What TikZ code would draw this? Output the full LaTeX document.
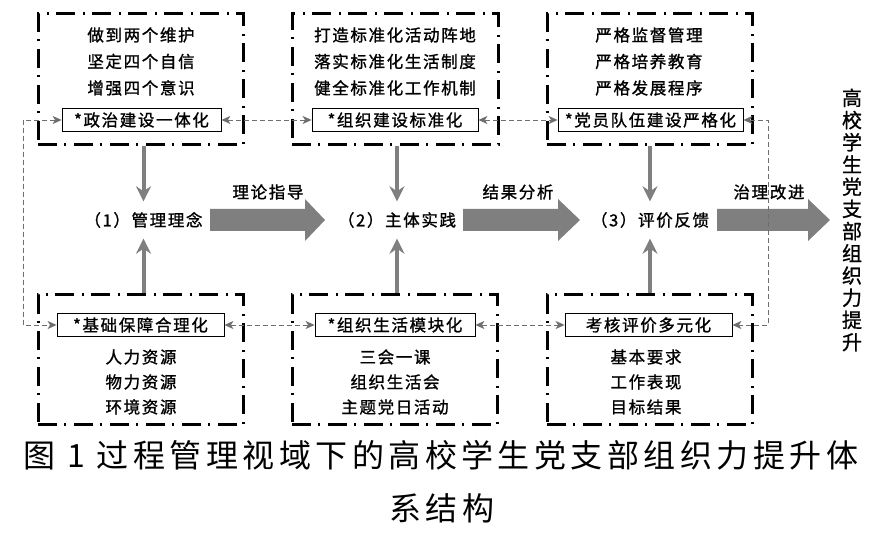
\documentclass[tikz,border=0pt]{standalone}
\usepackage{fontspec}
\setmainfont{Noto Sans CJK SC}
\newfontfamily\cjkls[LetterSpace=10,FakeBold=1.2]{Noto Sans CJK SC}
\newfontfamily\cjkcap[LetterSpace=14]{Noto Sans CJK SC}
\newfontfamily\cjkv[FakeBold=1]{Noto Sans CJK SC}
\usetikzlibrary{arrows.meta}
\definecolor{agray}{HTML}{7F7F7F}
\definecolor{dgray}{HTML}{6E6E6E}
\begin{document}
\begin{tikzpicture}[x=1pt,y=-1pt,
  outerbox/.style={draw=black, line width=3pt, dash pattern=on 19pt off 7pt on 2pt off 8pt, inner sep=0pt},
  lbl/.style={draw=black, line width=0.8pt, inner sep=0pt, minimum height=23pt, font={\cjkls\fontsize{16.5}{20}\selectfont}},
  txttop/.style={align=center, inner sep=0pt, font={\cjkls\fontsize{16.5}{26.5}\selectfont}},
  txtbot/.style={align=center, inner sep=0pt, font={\cjkls\fontsize{16.5}{25}\selectfont}},
  mid/.style={inner sep=0pt, minimum height=37pt, font={\cjkls\fontsize{16.5}{20}\selectfont}},
  arrlbl/.style={inner sep=0pt, font={\cjkls\fontsize{16.5}{20}\selectfont}},
  dconn/.style={draw=dgray, line width=0.9pt, dash pattern=on 5pt off 3pt,
     {Stealth[length=9pt,width=8pt,inset=2.5pt]}-{Stealth[length=9pt,width=8pt,inset=2.5pt]}},
  varr/.style={draw=agray, line width=4pt, -{Stealth[length=15pt,width=15pt,inset=5pt]}},
  bigarr/.style={fill=agray}
]
\useasboundingbox (0,0) rectangle (876,534);
\fill[white] (0,0) rectangle (876,534);

% outer dash-dot boxes
\node[outerbox, minimum width=205pt, minimum height=131pt] (b1) at (140.5,79.5) {};
\node[outerbox, minimum width=206pt, minimum height=131pt] (b2) at (395,79.5) {};
\node[outerbox, minimum width=205pt, minimum height=131pt] (b3) at (649.5,79.5) {};
\node[outerbox, minimum width=205pt, minimum height=130pt] (b4) at (140.5,360) {};
\node[outerbox, minimum width=205pt, minimum height=130pt] (b5) at (394.5,360) {};
\node[outerbox, minimum width=205pt, minimum height=130pt] (b6) at (649.5,360) {};

% texts in boxes
\node[txttop] (t1) at (141,61.5) {做到两个维护\\坚定四个自信\\增强四个意识};
\node[txttop] (t2) at (395,61.5) {打造标准化活动阵地\\落实标准化生活制度\\健全标准化工作机制};
\node[txttop] (t3) at (649,61.5) {严格监督管理\\严格培养教育\\严格发展程序};
\node[txtbot] (t4) at (141,382) {人力资源\\物力资源\\环境资源};
\node[txtbot] (t5) at (395,382) {三会一课\\组织生活会\\主题党日活动};
\node[txtbot] (t6) at (646,382) {基本要求\\工作表现\\目标结果};

% label boxes
\node[lbl, minimum width=159pt] (L1) at (141.5,120) {*政治建设一体化};
\node[lbl, minimum width=166pt] (L2) at (395,120) {*组织建设标准化};
\node[lbl, minimum width=185pt] (L3) at (650.5,120) {*党员队伍建设严格化};
\node[lbl, minimum width=167pt] (L4) at (140.5,325) {*基础保障合理化};
\node[lbl, minimum width=160pt] (L5) at (395,325) {*组织生活模块化};
\node[lbl, minimum width=167pt] (L6) at (648.5,325) {考核评价多元化};

% middle row
\node[mid] (m1) at (143.5,220) {（1）管理理念};
\node[mid] (m2) at (397,220) {（2）主体实践};
\node[mid] (m3) at (650,220) {（3）评价反馈};

% big arrows
\fill[bigarr] (210,209) -- (305,209) -- (305,199) -- (325,220) -- (305,241) -- (305,231) -- (210,231) -- cycle;
\fill[bigarr] (463,209) -- (558,209) -- (558,199) -- (580,220) -- (558,241) -- (558,231) -- (463,231) -- cycle;
\fill[bigarr] (717,209) -- (808,209) -- (808,199) -- (830,220) -- (808,241) -- (808,231) -- (717,231) -- cycle;
\node[arrlbl] (a1) at (268,192) {理论指导};
\node[arrlbl] (a2) at (518,192) {结果分析};
\node[arrlbl] (a3) at (769,192) {治理改进};

% vertical gray arrows
\draw[varr] (b1.south -| m1) -- (m1.north);
\draw[varr] (b2.south -| m2) -- (m2.north);
\draw[varr] (b3.south -| m3) -- (m3.north);
\draw[varr] (b4.north -| m1) -- (m1.south);
\draw[varr] (b5.north -| m2) -- (m2.south);
\draw[varr] (b6.north -| m3) -- (m3.south);

% dashed connectors
\coordinate (lx) at (23,0);
\coordinate (rx) at (768,0);
\draw[dconn] (L1.east) -- (L2.west);
\draw[dconn] (L2.east) -- (L3.west);
\draw[dconn] (L4.east) -- (L5.west);
\draw[dconn] (L5.east) -- (L6.west);
\draw[dconn] (L1.west) -- (L1.west -| lx) -- (L4.west -| lx) -- (L4.west);
\draw[dconn] (L3.east) -- (L3.east -| rx) -- (L6.east -| rx) -- (L6.east);

% vertical result text
\node[align=center, inner sep=0pt, font={\cjkv\fontsize{20}{22.2}\selectfont}] (vt) at (852,220)
  {高\\校\\学\\生\\党\\支\\部\\组\\织\\力\\提\\升};

% caption
\node[inner sep=0pt, font={\cjkcap\fontsize{32}{36}\selectfont}] (cap1) at (441,455) {图 1 过程管理视域下的高校学生党支部组织力提升体};
\node[inner sep=0pt, font={\cjkcap\fontsize{32}{36}\selectfont}] (cap2) at (442,508) {系结构};
\end{tikzpicture}
\end{document}
